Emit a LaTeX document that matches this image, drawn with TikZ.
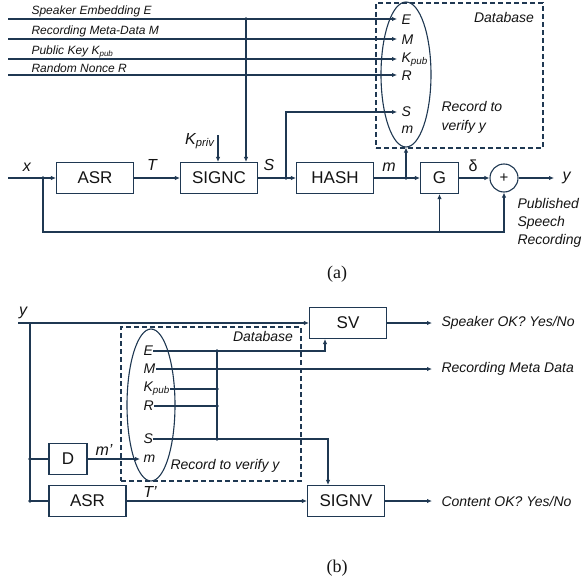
\documentclass[tikz,border=0pt]{standalone}
\usepackage{fontspec}
\setmainfont{Liberation Sans}
\newfontfamily\capfont{Liberation Serif}
\usetikzlibrary{arrows.meta}
\usetikzlibrary{calc}
\usetikzlibrary{shapes.geometric}

\definecolor{wire}{RGB}{31,56,82}
\definecolor{ink}{RGB}{20,20,20}

\tikzset{
  blk/.style={draw=wire, fill=white, rectangle, minimum width=77pt, minimum height=31pt, inner sep=0pt, font=\fontsize{17}{20}\selectfont},
  arr/.style={-{Latex[length=5pt,width=4.5pt]}},
  dot/.style={circle, fill=wire, inner sep=0pt, minimum size=3.6pt},
  note/.style={font=\fontsize{14}{18}\selectfont\itshape, inner sep=0pt},
  feed/.style={font=\fontsize{12}{14}\selectfont\itshape, inner sep=0pt},
  sig/.style={font=\fontsize{16}{18}\selectfont\itshape, inner sep=0pt},
  rec/.style={draw=wire, ellipse, inner sep=0pt},
  db/.style={draw=wire, dash pattern=on 5pt off 3pt, rectangle, inner sep=0pt},
  subcap/.style={font={\capfont\fontsize{18}{20}\selectfont}},
}

\begin{document}
\begin{tikzpicture}[x=1pt, y=-1pt, line width=1.1pt, color=wire, text=ink]
\useasboundingbox (0,0) rectangle (581,586);

%%% (a) signing side

\node[db, minimum width=167pt, minimum height=145pt] (dbA) at (459.5,75.5) {};
\node[rec, minimum width=50pt, minimum height=145pt] (recA) at (406,74.5) {};
\node[note] (dbAlbl) at (504,17) {Database};
\node[note, anchor=north west, align=left] (recAlbl) at (441,101) {Record to\\[1pt]verify y};

% record fields
\node[note, anchor=west] (aE) at (401,20) {E};
\node[note, anchor=west] (aM) at (401,40) {M};
\node[note, anchor=west] (aK) at (401,60) {K\textsubscript{pub}};
\node[note, anchor=west] (aR) at (401,76) {R};
\node[note, anchor=west] (aS) at (401,112) {S};
\node[note, anchor=west] (am) at (401,130) {m};

% side inputs
\coordinate (inE) at (8,19);
\coordinate (inM) at (8,39);
\coordinate (inK) at (8,59);
\coordinate (inR) at (8,75);
\node[feed, anchor=base west] (lblE) at (31,15) {Speaker Embedding E};
\node[feed, anchor=base west] (lblM) at (31,35) {Recording Meta-Data M};
\node[feed, anchor=base west] (lblK) at (31,55) {Public Key K\textsubscript{pub}};
\node[feed, anchor=base west] (lblR) at (31,72) {Random Nonce R};

\draw[arr, shorten >=4pt] (inE) -- (inE -| aE.west);
\draw[arr, shorten >=4pt] (inM) -- (inM -| aM.west);
\draw[arr, shorten >=4pt] (inK) -- (inK -| aK.west);
\draw[arr, shorten >=4pt] (inR) -- (inR -| aR.west);

% main chain
\node[blk] (asrA) at (95,178) {ASR};
\node[blk] (signc) at (219,178) {SIGNC};
\node[blk] (hash) at (335,178) {HASH};
\node[blk, minimum width=38pt] (gblk) at (439.5,178) {G};
\node[draw=wire, circle, minimum size=28pt, inner sep=0pt, font=\fontsize{15}{16}\selectfont] (sum) at (504,178) {+};

\node[dot] (jE) at (246,19) {};
\node[dot] (jM) at (246,39) {};
\node[dot] (jK) at (246,59) {};
\node[dot] (jR) at (246,75) {};
\draw[arr] (jE.center) -- (jE |- signc.north);

\coordinate (kp) at (218,135);
\draw[arr] (kp) -- (kp |- signc.north);
\node[sig, anchor=east] (kpriv) at (215,141) {K\textsubscript{priv}};

\coordinate (inA) at (8,178);
\node[dot] (xdot) at (43,178) {};
\node[dot] (sdot) at (286,178) {};
\node[dot] (mdot) at (406,178) {};
\coordinate (outA) at (554,178);

\draw[arr] (inA) -- (asrA);
\draw[arr] (asrA) -- (signc);
\draw[arr] (signc) -- (hash);
\draw[arr] (hash) -- (gblk);
\draw[arr] (gblk) -- (sum);
\draw[arr] (sum) -- (outA);
\draw[arr, shorten >=4pt] (sdot.center) |- (aS.west);
\draw[arr] (mdot.center) -- (recA.south);

\node[sig] (xA) at (27,167) {x};
\node[sig] (tA) at (152,165) {T};
\node[sig] (sA) at (269,165) {S};
\node[sig] (mA) at (389,167) {m};
\node[sig, font=\fontsize{16}{18}\selectfont] (dA) at (473,166) {δ};
\node[sig, anchor=west] (yA) at (562,178) {y};

% bypass of the recording
\coordinate (fbA) at (504,232);
\draw[arr] (xdot.center) |- (fbA) -- (sum.south);
\draw[arr] (gblk |- fbA) -- (gblk.south);

\node[note, anchor=north west, align=left] (pub) at (517,198) {Published\\Speech\\Recording};
\node[subcap] (capA) at (337,274) {(a)};

%%% (b) verifying side

\node[db, minimum width=180pt, minimum height=154pt] (dbB) at (211,404) {};
\node[rec, minimum width=48pt, minimum height=152pt] (recB) at (151,405) {};
\node[note] (dbBlbl) at (263,336) {Database};
\node[note, anchor=west] (recBlbl) at (170,466) {Record to verify y};

\node[note, anchor=west] (bE) at (143,351) {E};
\node[note, anchor=west] (bM) at (143,369) {M};
\node[note, anchor=west] (bK) at (143,389) {K\textsubscript{pub}};
\node[note, anchor=west] (bR) at (143,406) {R};
\node[note, anchor=west] (bS) at (143,439) {S};
\node[note, anchor=west] (bm) at (143,459) {m};

\node[blk] (sv) at (348,323) {SV};
\node[blk, minimum width=38pt] (dly) at (68,459) {D};
\node[blk] (asrB) at (87.5,501) {ASR};
\node[blk] (signv) at (346,501) {SIGNV};

\foreach \nm/\yy in {E/351, M/369, K/389, R/406, S/439}
  \node[dot] (bus\nm) at (217,\yy) {};
\draw (busE.center) -- (busS.center);
\draw (bK.east) -- (busK.center);
\draw (bR.east) -- (busR.center);

\coordinate (inB) at (18,323);
\coordinate (yTap) at (30,323);
\node[dot] (dTap) at (30,459) {};
\node[dot] (aTap) at (30,501) {};
\coordinate (svOut) at (432,323);
\coordinate (mdOut) at (432,369);
\coordinate (sgOut) at (432,501);

\draw[arr] (inB) -- (sv.west);
\draw (yTap) -- (aTap.center);
\draw (dTap.center) -- (dly);
\draw (aTap.center) -- (asrB);
\draw[arr, shorten >=3pt] (dly) -- (dly -| bm.west);
\draw[arr] (asrB) -- (signv);
\draw[arr] (sv) -- (svOut);
\draw[arr] (signv) -- (sgOut);
\draw[arr] (bE.east) -| ($(sv.south)+(-23,0)$);
\draw[arr] (bM.east) -- (mdOut);
\draw[arr] (bS.east) -| ($(signv.north)+(-18,0)$);

\node[sig] (yB) at (23,313) {y};
\node[sig] (mB) at (104,450) {m’};
\node[sig] (tB) at (150,492) {T’};

\node[note, anchor=west] (svlbl) at (441,323) {Speaker OK? Yes/No};
\node[note, anchor=west] (mdlbl) at (441,369) {Recording Meta Data};
\node[note, anchor=west] (sglbl) at (441,501) {Content OK? Yes/No};

\node[subcap] (capB) at (337,568) {(b)};

\end{tikzpicture}
\end{document}
